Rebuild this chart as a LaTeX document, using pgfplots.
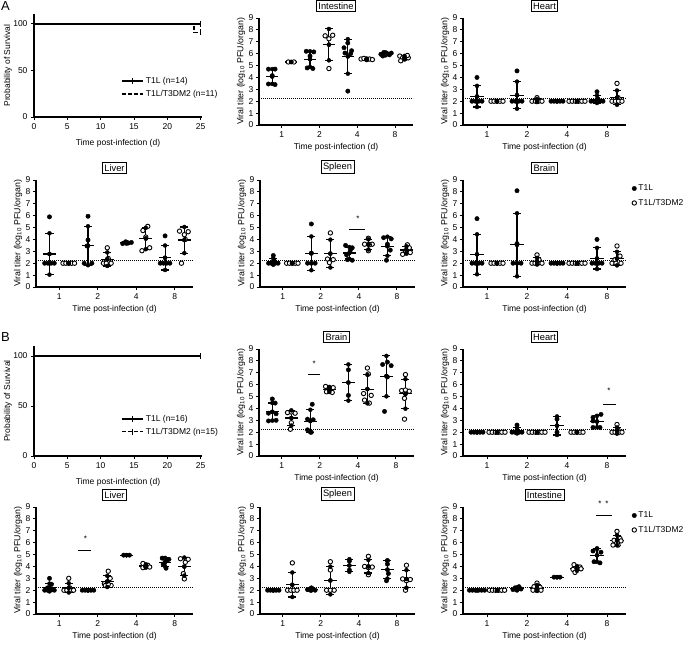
\documentclass[border=0pt]{standalone}
\usepackage{fontspec}
\setmainfont{Liberation Sans}
\usepackage{pgfplots}
\usepackage{pgfplotstable}
\pgfplotsset{compat=1.18}

\pgfplotsset{
 base/.style={scale only axis, axis x line*=bottom, axis y line*=left,
   axis line style={line width=1.1pt,-}, tick style={black, line width=0.9pt},
   tick align=outside, major tick length=3pt,
   tick label style={font=\fontsize{8.5}{9}\selectfont},
   /pgf/number format/assume math mode=true,
   label style={font=\fontsize{8.5}{9}\selectfont}, clip=false},
 scat/.style={base, xmin=0.3, xmax=8.45, ymin=0, ymax=9, ytick={0,...,9},
   xtick={1.5,3.5,5.5,7.5}, xticklabels={1,2,4,8}, height=107pt,
   yticklabel style={xshift=1pt},
   xlabel={Time post-infection (d)},
   ylabel={Viral titer (log\textsubscript{10} PFU/organ)},
   ylabel style={at={(axis description cs:0,0.5)}, anchor=center, yshift=18pt, font=\fontsize{8.8}{9}\selectfont},
   xlabel style={at={(axis description cs:0.5,0)}, anchor=center, yshift=-22pt},
   title style={draw, line width=0.8pt, inner sep=2pt, font=\fontsize{9.3}{10}\selectfont, at={(0.5,1)}, anchor=south, yshift=0.5pt}},
 surv/.style={base, xmin=0, xmax=25.2, ymin=0, ymax=110, xtick={0,5,...,25}, ytick={0,50,100}, width=168pt,
   xlabel={Time post-infection (d)}, ylabel={Probability of Survival},
   ylabel style={at={(axis description cs:0,0.5)}, anchor=center, yshift=26pt},
   xlabel style={at={(axis description cs:0.5,0)}, anchor=center, yshift=-26pt},
   legend style={draw=none, fill=none, font=\fontsize{8.5}{9}\selectfont, row sep=1pt, inner sep=1pt},
   legend image post style={xscale=1.25},
   legend cell align=left},
 filled/.style={only marks, mark=*, mark size=2.2pt, black, forget plot},
 open/.style={only marks, mark=*, mark size=2.2pt, black, mark options={fill=white, line width=0.9pt}, forget plot},
 scleg/.style={legend style={draw=none, fill=none, at={(1.03,0.985)}, anchor=north west, font=\fontsize{8.5}{9}\selectfont, row sep=3pt, inner sep=1pt}, legend cell align=left},
}
\newcommand{\stats}[1]{%
 \addplot[black, forget plot, only marks, mark=none, error bars/.cd, x dir=both, x fixed=0.33, error mark=none, error bar style={line width=1.1pt}] table[x=x,y=m]{#1};
 \addplot[black, forget plot, only marks, mark=none, error bars/.cd, y dir=both, y explicit, error mark=none, error bar style={line width=1.1pt}] table[x=x,y=m,y error=s]{#1};
 \addplot[black, forget plot, only marks, mark=none, error bars/.cd, x dir=both, x fixed=0.21, error mark=none, error bar style={line width=1.1pt}] table[x=x,y expr=\thisrow{m}+\thisrow{s}]{#1};
 \addplot[black, forget plot, only marks, mark=none, error bars/.cd, x dir=both, x fixed=0.21, error mark=none, error bar style={line width=1.1pt}] table[x=x,y expr=\thisrow{m}-\thisrow{s}]{#1};
}
\newcommand{\lod}{\addplot[black, line width=1pt, dash pattern=on 1pt off 1pt, forget plot] coordinates {(0.3,2.25)(8.45,2.25)};}

\pgfplotstableread{
x m s
1 4.08 0.62
2 5.30 0.0
3 5.54 0.66
4 6.76 1.32
5 5.77 1.45
6 5.54 0.05
7 5.98 0.12
8 5.66 0.15
}\sIntA
\pgfplotstableread{
x m s
1 2.4 0.89
2 2 0
3 2.51 1.14
4 2.06 0.13
5 2 0
6 2 0
7 2.17 0.32
8 2.3 0.6
}\sHeartA
\pgfplotstableread{
x m s
1 2.78 1.74
2 2 0
3 3.47 1.64
4 2.34 0.57
5 3.72 0.07
6 4.08 0.9
7 2.46 1.03
8 3.95 1.1
}\sLiverA
\pgfplotstableread{
x m s
1 2.14 0.27
2 2 0
3 2.83 1.42
4 2.81 1.17
5 2.86 0.5
6 3.58 0.43
7 3.43 0.8
8 3.11 0.31
}\sSpleenA
\pgfplotstableread{
x m s
1 2.75 1.68
2 2 0
3 3.55 2.65
4 2.17 0.28
5 2 0
6 2 0
7 2.4 0.89
8 2.39 0.57
}\sBrainA
\pgfplotstableread{
x m s
1 3.72 0.74
2 3.2 0.64
3 2.94 0.95
4 5.6 0.21
5 6.18 1.52
6 5.63 1.2
7 6.72 1.7
8 5.22 1.24
}\sBrainB
\pgfplotstableread{
x m s
1 2 0
2 2 0
3 2.13 0.23
4 2 0
5 2.55 0.78
6 2 0
7 2.9 0.48
8 2.14 0.26
}\sHeartB
\pgfplotstableread{
x m s
1 2.23 0.33
2 2.2 0.39
3 2 0
4 2.74 0.47
5 4.95 0
6 4.04 0.14
7 4.37 0.35
8 3.99 0.76
}\sLiverB
\pgfplotstableread{
x m s
1 2 0
2 2.46 1.03
3 2.07 0.09
4 2.82 1.17
5 4.08 0.53
6 4.0 0.55
7 3.73 0.75
8 2.95 0.74
}\sSpleenB
\pgfplotstableread{
x m s
1 2 0
2 2 0
3 2.13 0.11
4 2.19 0.25
5 3.1 0
6 3.83 0.2
7 4.94 0.56
8 6.21 0.43
}\sIntB

\begin{document}
\begin{tikzpicture}
\useasboundingbox (0,0) rectangle (696pt,-647pt);
\node[anchor=north west, inner sep=0, font=\fontsize{13}{13}\selectfont] at (1pt,-1pt) {A};
\node[anchor=north west, inner sep=0, font=\fontsize{13}{13}\selectfont] at (1pt,-332pt) {B};

% ---------- A survival
\begin{axis}[surv, at={(34pt,-117pt)}, anchor=south west, height=102.5pt,
  legend style={at={(axis cs:12.9,46)}, anchor=north west}]
\addplot[black, line width=1.4pt, mark=|, mark size=3pt, mark indices={2}] coordinates {(0,100)(25,100)};
\addplot[black, line width=1.4pt, dash pattern=on 4pt off 2pt, mark=|, mark size=3pt, mark options={solid}, mark indices={4}] coordinates {(0,100)(24,100)(24,90.9)(25,90.9)};
\legend{T1L (n=14), T1L/T3DM2 (n=11)}
\end{axis}

% ---------- A intestine
\begin{axis}[scat, at={(259pt,-125pt)}, anchor=south west, width=154pt, title={Intestine}]
\lod
\addplot[filled] coordinates {(0.8,4.7)(1.15,4.7)(1.0,4.15)(0.8,3.45)(1.15,3.4)
(2.8,6.2)(3.2,6.15)(3.0,5.8)(2.85,4.8)(3.15,4.75)
(5.0,6.9)(4.8,6.5)(5.2,6.25)(4.85,6.05)(5.15,6.0)(5.0,2.85)
(6.75,5.95)(6.9,6.1)(7.05,6.05)(7.2,5.9)(7.3,6.05)(6.85,5.8)};
\addplot[open] coordinates {(1.85,5.3)(2.15,5.3)
(3.8,7.5)(4.2,7.55)(4.0,7.25)(4.0,4.75)
(5.7,5.55)(5.85,5.6)(6.0,5.5)(6.15,5.55)(6.3,5.5)
(7.75,5.8)(7.9,5.65)(8.05,5.6)(8.2,5.65)(7.8,5.4)(8.15,5.85)};
\stats{\sIntA}
\end{axis}

% ---------- A heart
\begin{axis}[scat, at={(463pt,-125pt)}, anchor=south west, width=163pt, title={Heart}]
\lod
\addplot[filled] coordinates {(1,4.0)(0.75,2)(0.92,2)(1.08,2)(1.25,2)
(3,4.55)(2.75,2)(2.92,2)(3.08,2)(3.25,2)
(4.7,2)(4.85,2)(5,2)(5.15,2)(5.3,2)
(7,2.8)(7.05,2.2)(6.7,2)(6.85,2)(7.15,2)(7.3,2)};
\addplot[open] coordinates {(1.7,2)(1.85,2)(2,2)(2.15,2)(2.3,2)
(4,2.3)(3.75,2)(3.92,2)(4.08,2)(4.25,2)
(5.6,2)(5.76,2)(5.92,2)(6.08,2)(6.24,2)(6.4,2)
(8,3.5)(8.05,2.3)(7.75,2)(7.92,2)(8.08,2)(8.25,2)};
\stats{\sHeartA}
\end{axis}

% ---------- A liver
\begin{axis}[scat, at={(36pt,-287pt)}, anchor=south west, width=157pt, title={Liver}]
\lod
\addplot[filled] coordinates {(1,5.9)(0.75,2)(0.92,2)(1.08,2)(1.25,2)
(3,5.95)(3,3.95)(2.95,3.45)(2.8,2)(3.2,2)
(4.8,3.65)(4.95,3.8)(5.1,3.7)(5.25,3.75)
(7,4.3)(6.75,2)(6.92,2)(7.08,2)(7.25,2)};
\addplot[open] coordinates {(1.7,2)(1.85,2)(2,2)(2.15,2)(2.3,2)
(4,3.3)(4.05,2.4)(3.8,2)(3.95,2)(4.2,2)
(6.1,5.1)(5.85,4.75)(6.0,4.2)(5.8,3.05)(6.2,3.3)
(7.75,4.7)(8.2,4.65)(8.0,4.4)(8.05,4.0)(7.85,2.0)};
\stats{\sLiverA}
\end{axis}

% ---------- A spleen
\begin{axis}[scat, at={(260pt,-287pt)}, anchor=south west, width=155pt, title={Spleen}]
\lod
\addplot[filled] coordinates {(1,2.65)(1.05,2.2)(0.75,2)(0.9,2)(1.1,2)(1.25,2)
(3,5.3)(3,2.85)(2.8,2)(3,2)(3.2,2)
(4.8,3.5)(5.15,3.3)(5.05,3.1)(4.85,2.7)(4.9,2.3)(5.15,2.25)
(6.8,4.15)(7.2,4.05)(7.0,3.6)(7.15,3.1)(6.95,2.25)};
\addplot[open] coordinates {(1.7,2)(1.85,2)(2,2)(2.15,2)(2.3,2)
(4,4.55)(3.85,2.35)(4.15,2.3)(3.95,2.05)
(6,4.1)(5.8,3.6)(6.2,3.6)(6.0,3.05)(6.05,3.55)
(8.05,3.55)(7.8,2.75)(7.95,3.05)(8.2,2.9)(8.15,3.3)};
\stats{\sSpleenA}
\addplot[black, line width=1pt, forget plot] coordinates {(5.0,4.8)(5.8,4.8)};
\node[font=\fontsize{8}{8}\selectfont] at (axis cs:5.45,5.75) {*};
\end{axis}

% ---------- A brain
\begin{axis}[scat, scleg, at={(463pt,-287pt)}, anchor=south west, width=163pt, title={Brain}]
\lod
\addplot[filled] coordinates {(1,5.75)(0.75,2)(0.92,2)(1.08,2)(1.25,2)
(3,8.1)(3,3.65)(2.8,2)(3,2)(3.2,2)
(4.7,2)(4.85,2)(5,2)(5.15,2)(5.3,2)
(7,4.0)(6.75,2)(6.92,2)(7.08,2)(7.25,2)};
\addplot[open] coordinates {(1.7,2)(1.85,2)(2,2)(2.15,2)(2.3,2)
(4,2.7)(4.1,2.3)(3.75,2)(3.9,2)(4.05,2)(4.25,2)
(5.6,2)(5.76,2)(5.92,2)(6.08,2)(6.24,2)(6.4,2)
(8,3.45)(8.15,2.6)(7.9,2.3)(7.75,2)(7.95,2)(8.2,2)};
\stats{\sBrainA}
\addlegendimage{only marks, mark=*, mark size=2.2pt, black}
\addlegendimage{only marks, mark=*, mark size=2.2pt, black, mark options={fill=white, line width=0.9pt}}
\legend{T1L, T1L/T3DM2}
\end{axis}

% ---------- B survival
\begin{axis}[surv, at={(34pt,-456pt)}, anchor=south west, height=110pt,
  legend style={at={(axis cs:12.9,44)}, anchor=north west}]
\addplot[black, line width=1.4pt, mark=|, mark size=3pt, mark indices={2}] coordinates {(0,100)(25,100)};
\addplot[black, line width=1.4pt, dash pattern=on 4pt off 2pt, mark=|, mark size=3pt, mark options={solid}, mark indices={2}] coordinates {(0,100)(25,100)};
\legend{T1L (n=16), T1L/T3DM2 (n=15)}
\end{axis}

% ---------- B brain
\begin{axis}[scat, at={(259pt,-456pt)}, anchor=south west, width=155pt, title={Brain}]
\lod
\addplot[filled] coordinates {(1,4.8)(1.15,4.45)(0.8,3.6)(1.2,3.55)(0.8,2.95)(1.2,3.0)
(3.1,4.35)(2.85,3.1)(3.15,3.05)(2.85,2.2)(3.05,2.0)
(5,7.25)(5,5.1)
(6.8,7.7)(7.05,7.9)(7.25,7.6)(7.05,6.65)(6.9,3.75)};
\addplot[open] coordinates {(1.8,3.65)(2.0,3.7)(2.2,3.6)(2.0,2.8)(1.95,2.25)
(3.8,5.85)(4.0,5.65)(4.2,5.75)(3.85,5.4)(4.15,5.35)
(6.0,7.4)(6.05,6.9)(5.8,5.25)(6.2,5.1)(5.85,4.7)(6.1,4.45)
(8.0,6.85)(7.8,5.5)(8.0,5.55)(8.2,5.45)(7.95,4.85)(7.95,3.1)};
\stats{\sBrainB}
\addplot[black, line width=1pt, forget plot] coordinates {(2.88,6.85)(3.5,6.85)};
\node[font=\fontsize{8}{8}\selectfont] at (axis cs:3.2,7.8) {*};
\end{axis}

% ---------- B heart
\begin{axis}[scat, at={(463pt,-456pt)}, anchor=south west, width=163pt, title={Heart}]
\lod
\addplot[filled] coordinates {(0.7,2)(0.85,2)(1,2)(1.15,2)(1.3,2)
(3,2.6)(3.0,2.15)(2.75,2)(2.9,2)(3.1,2)(3.25,2)
(5,3.1)(5,2.0)
(7.2,3.5)(6.8,3.25)(6.8,2.95)(6.8,2.4)(7.15,2.4)};
\addplot[open] coordinates {(1.6,2)(1.76,2)(1.92,2)(2.08,2)(2.24,2)(2.4,2)
(3.6,2)(3.76,2)(3.92,2)(4.08,2)(4.24,2)(4.4,2)
(5.7,2)(5.85,2)(6,2)(6.15,2)(6.3,2)
(8,2.65)(8.05,2.2)(7.75,2)(7.9,2)(8.1,2)(8.25,2)};
\stats{\sHeartB}
\addplot[black, line width=1pt, forget plot] coordinates {(7.3,4.35)(7.95,4.35)};
\node[font=\fontsize{8}{8}\selectfont] at (axis cs:7.6,5.45) {*};
\end{axis}

% ---------- B liver
\begin{axis}[scat, at={(36pt,-614pt)}, anchor=south west, width=157pt, title={Liver}]
\lod
\addplot[filled] coordinates {(1,3.0)(1.1,2.5)(0.9,2.2)(1.15,2.1)(0.75,2)(0.9,2)(1.05,2)(1.25,2)
(2.7,2)(2.85,2)(3,2)(3.15,2)(3.3,2)
(4.85,4.95)(5.15,4.95)
(6.85,4.7)(7.2,4.6)(7.1,4.5)(6.9,4.2)(7.05,3.85)};
\addplot[open] coordinates {(2,3.0)(2.05,2.2)(1.75,2)(1.9,2)(2.1,2)(2.25,2)
(4.05,3.6)(4.15,3.0)(3.85,2.55)(4.2,2.4)(3.9,2.4)(4.05,2.5)
(5.85,4.25)(6.1,4.1)(6.2,3.95)(5.85,3.9)(6.0,4.0)
(7.8,4.65)(8.2,4.6)(8.05,4.35)(7.95,3.4)(8.0,2.95)};
\stats{\sLiverB}
\addplot[black, line width=1pt, forget plot] coordinates {(2.5,5.3)(3.15,5.3)};
\node[font=\fontsize{8}{8}\selectfont] at (axis cs:2.86,6.35) {*};
\end{axis}

% ---------- B spleen
\begin{axis}[scat, at={(260pt,-614pt)}, anchor=south west, width=155pt, title={Spleen}]
\lod
\addplot[filled] coordinates {(0.7,2)(0.85,2)(1,2)(1.15,2)(1.3,2)
(3,2.2)(3.1,2.1)(2.8,2.05)(2.95,2.0)(3.2,2.0)
(5,4.45)(5,3.7)
(7,4.5)(7.0,4.2)(7.05,3.4)(6.95,2.8)};
\addplot[open] coordinates {(2,4.3)(1.75,2)(1.92,2)(2.08,2)(2.25,2)
(4,4.4)(4.0,3.7)(3.8,2)(4.0,2)(4.2,2)
(6,4.85)(5.8,4.0)(6.2,3.95)(6.0,3.9)(6.0,3.3)
(8,4.1)(7.8,2.95)(8.2,2.9)(8.0,2.8)(7.95,2.0)};
\stats{\sSpleenB}
\end{axis}

% ---------- B intestine
\begin{axis}[scat, scleg, at={(463pt,-614pt)}, anchor=south west, width=163pt, title={Intestine}]
\lod
\addplot[filled] coordinates {(0.62,2)(0.77,2)(0.92,2)(1.08,2)(1.23,2)(1.38,2)
(3.1,2.3)(2.9,2.2)(3.2,2.1)(2.8,2.05)(3.0,2.0)
(4.85,3.1)(5.15,3.1)
(7,5.5)(6.8,5.3)(7.2,5.2)(6.85,4.4)(7.15,4.3)};
\addplot[open] coordinates {(1.62,2)(1.77,2)(1.92,2)(2.08,2)(2.23,2)(2.38,2)
(4,2.6)(3.85,2.3)(4.15,2.25)(3.8,2.0)(4.0,2.0)(4.2,2.0)
(5.85,4.15)(6.15,3.95)(6.0,3.85)(5.8,3.75)(6.2,3.8)(5.9,3.5)
(8.0,6.95)(8.15,6.35)(7.85,6.2)(8.2,6.15)(7.8,5.8)(8.05,5.8)};
\stats{\sIntB}
\addplot[black, line width=1pt, forget plot] coordinates {(6.95,8.3)(7.75,8.3)};
\node[font=\fontsize{8}{8}\selectfont] at (axis cs:7.15,9.3) {*};
\node[font=\fontsize{8}{8}\selectfont] at (axis cs:7.5,9.3) {*};
\addlegendimage{only marks, mark=*, mark size=2.2pt, black}
\addlegendimage{only marks, mark=*, mark size=2.2pt, black, mark options={fill=white, line width=0.9pt}}
\legend{T1L, T1L/T3DM2}
\end{axis}
\end{tikzpicture}
\end{document}
